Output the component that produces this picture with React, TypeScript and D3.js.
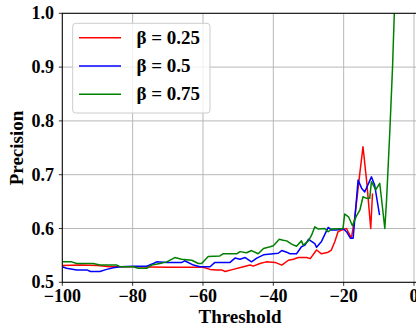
import React from "react";
import * as d3 from "d3";

const xTicks = [-100, -80, -60, -40, -20, 0];
const yTicks = [0.5, 0.6, 0.7, 0.8, 0.9, 1.0];

const redX = [-100, -95, -90, -86.4, -80, -70, -60, -58, -56.1, -54.7, -53.7, -51.4, -48.5, -46.6, -45.7, -43.8, -42, -39.5, -37.6, -35.7, -34.3, -32.9, -30.5, -29.5, -27.7, -26.3, -24.4, -23.5, -22.5, -21.6, -20.6, -19.2, -17.8, -16.8, -15.4, -14.5, -13.4, -12.3, -11.8];
const redY = [0.531, 0.532, 0.531, 0.529, 0.529, 0.528, 0.528, 0.524, 0.523, 0.523, 0.520, 0.524, 0.529, 0.532, 0.530, 0.535, 0.538, 0.537, 0.532, 0.541, 0.543, 0.546, 0.546, 0.544, 0.560, 0.553, 0.556, 0.560, 0.576, 0.594, 0.597, 0.600, 0.582, 0.622, 0.703, 0.752, 0.684, 0.600, 0.665];

const blueX = [-100, -98.8, -95.9, -93, -92, -89.3, -87.4, -85.5, -83.6, -79.8, -76, -74.1, -73.2, -70.3, -66, -65.2, -62.7, -60.9, -58, -56.6, -52.3, -50.9, -49.5, -48, -46.2, -44.7, -42.8, -40, -38.6, -37.6, -36.2, -35.3, -33.4, -32, -31, -30, -28.2, -27.7, -26.3, -24.4, -23.4, -22, -20.2, -19.2, -18.1, -17.3, -15.9, -14.9, -14, -12.1, -11.2, -9.8];
const blueY = [0.529, 0.526, 0.523, 0.523, 0.520, 0.520, 0.524, 0.527, 0.529, 0.530, 0.530, 0.535, 0.538, 0.537, 0.537, 0.540, 0.532, 0.529, 0.529, 0.537, 0.537, 0.545, 0.543, 0.546, 0.538, 0.545, 0.551, 0.553, 0.554, 0.559, 0.556, 0.553, 0.553, 0.566, 0.569, 0.580, 0.572, 0.565, 0.576, 0.602, 0.597, 0.597, 0.600, 0.594, 0.582, 0.582, 0.690, 0.675, 0.668, 0.696, 0.681, 0.625];

const greenX = [-100, -97.3, -95.9, -91.2, -89.3, -84.5, -83.6, -79.8, -78.4, -76, -74.6, -72.2, -70.3, -68, -66.1, -63.2, -61.3, -60.4, -58.5, -55.2, -54.3, -50.4, -49.5, -47.6, -46.2, -44.3, -42.8, -40.9, -40, -38.3, -37.2, -36.2, -34.8, -33.4, -32, -31.5, -30, -29.1, -28.2, -27.2, -25.4, -24.4, -23.4, -20.2, -19.7, -18.55, -17.5, -16.4, -15.4, -14.5, -13.5, -12.6, -12.1, -10.9, -9.75, -9.3, -8.3, -7.8, -6.9, -6.1, -5.6, -5.2];
const greenY = [0.538, 0.538, 0.535, 0.535, 0.532, 0.532, 0.529, 0.529, 0.526, 0.526, 0.532, 0.535, 0.538, 0.546, 0.543, 0.541, 0.535, 0.535, 0.548, 0.549, 0.553, 0.553, 0.557, 0.555, 0.559, 0.553, 0.563, 0.566, 0.568, 0.580, 0.578, 0.577, 0.571, 0.567, 0.577, 0.569, 0.577, 0.588, 0.603, 0.599, 0.600, 0.594, 0.599, 0.600, 0.627, 0.621, 0.605, 0.623, 0.634, 0.659, 0.656, 0.656, 0.687, 0.672, 0.684, 0.659, 0.600, 0.653, 0.777, 0.9, 1.0, 1.08];

const seriesNames = ["β = 0.25", "β = 0.5", "β = 0.75"];
const seriesColors = ["#ff0000", "#0000ff", "#008000"];

export default function App() {
  const W = 416, H = 326;
  const left = 62.3, right = 414, top = 13.3, bottom = 282.3;
  const x = d3.scaleLinear().domain([-100, 0]).range([left, right]);
  const y = d3.scaleLinear().domain([0.5, 1.0]).range([bottom, top]);
  const font = "'Liberation Serif', 'Times New Roman', serif";
  const series = [
    { xs: redX, ys: redY },
    { xs: blueX, ys: blueY },
    { xs: greenX, ys: greenY },
  ];
  const line = d3.line<[number, number]>().x(d => x(d[0])).y(d => y(d[1]));
  const frameRight = W + 10;
  return (
    <svg width={W} height={H} style={{ position: "absolute", left: 0, top: 0, background: "#fff" }}>
      <defs>
        <clipPath id="plotclip">
          <rect x={left} y={top} width={frameRight - left} height={bottom - top} />
        </clipPath>
      </defs>
      {/* grid */}
      {xTicks.map(t => (
        <line key={"gx" + t} x1={x(t)} x2={x(t)} y1={top} y2={bottom} stroke="#b0b0b0" strokeWidth={0.9} />
      ))}
      {yTicks.map(t => (
        <line key={"gy" + t} x1={left} x2={frameRight} y1={y(t)} y2={y(t)} stroke="#b0b0b0" strokeWidth={0.9} />
      ))}
      {/* lines */}
      <g clipPath="url(#plotclip)">
        {series.map((s, i) => (
          <path key={i} d={line(s.xs.map((v, j) => [v, s.ys[j]]) as [number, number][]) || ""}
            fill="none" stroke={seriesColors[i]} strokeWidth={1.5} strokeLinejoin="round" />
        ))}
      </g>
      {/* frame */}
      <rect x={left} y={top} width={frameRight - left} height={bottom - top} fill="none" stroke="#000" strokeWidth={1} />
      {/* ticks */}
      {xTicks.map(t => (
        <g key={"tx" + t}>
          <line x1={x(t)} x2={x(t)} y1={bottom} y2={bottom + 3.5} stroke="#000" strokeWidth={0.8} />
          <text x={x(t)} y={302} textAnchor="middle" fontFamily={font} fontWeight="bold" fontSize={18}>
            {d3.format("d")(t)}
          </text>
        </g>
      ))}
      {yTicks.map(t => (
        <g key={"ty" + t}>
          <line x1={left - 3.5} x2={left} y1={y(t)} y2={y(t)} stroke="#000" strokeWidth={0.8} />
          <text x={54} y={y(t) + 6} textAnchor="end" fontFamily={font} fontWeight="bold" fontSize={18}>
            {d3.format(".1f")(t)}
          </text>
        </g>
      ))}
      <text x={240} y={323} textAnchor="middle" fontFamily={font} fontWeight="bold" fontSize={19}>Threshold</text>
      <text transform={`translate(23,148) rotate(-90)`} textAnchor="middle" fontFamily={font} fontWeight="bold" fontSize={19}>Precision</text>
      {/* legend */}
      <rect x={72.7} y={23.3} width={137.3} height={89.7} rx={3} fill="#fff" fillOpacity={0.8} stroke="#cccccc" strokeWidth={1} />
      {seriesNames.map((n, i) => (
        <g key={n}>
          <line x1={79} x2={121} y1={37.7 + i * 28.3} y2={37.7 + i * 28.3} stroke={seriesColors[i]} strokeWidth={1.5} />
          <text x={136.5} y={37.7 + i * 28.3 + 6} fontFamily={font} fontWeight="bold" fontSize={19}>{n}</text>
        </g>
      ))}
    </svg>
  );
}
